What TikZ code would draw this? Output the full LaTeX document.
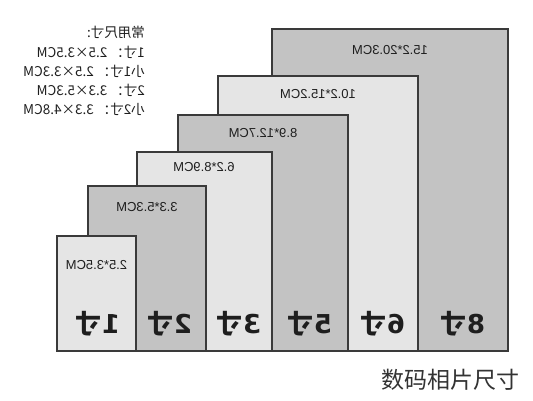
\documentclass[tikz,border=0pt]{standalone}
\usepackage{fontspec}
\setmainfont{Liberation Sans}
\newfontfamily\cjk{Noto Sans CJK SC}
\newfontfamily\digsans{DejaVu Sans}
\newcommand\mir[1]{\reflectbox{#1}}
\newcommand\bigsize[1]{\mir{{\digsans\bfseries #1}{\cjk\bfseries 寸}}}
\definecolor{lightfill}{HTML}{E5E5E5}
\definecolor{darkfill}{HTML}{C3C3C3}
\definecolor{edge}{HTML}{3A3A3A}
\definecolor{ink}{HTML}{1E1E1E}
\tikzset{
  photo/.style={draw=edge, line width=1.3pt},
  lightbox/.style={photo, fill=lightfill},
  darkbox/.style={photo, fill=darkfill},
  sizelabel/.style={inner sep=0pt, text=ink, font=\fontsize{13}{13}\selectfont},
  biglabel/.style={inner sep=0pt, text=ink, font=\fontsize{26}{26}\selectfont},
  legendline/.style={inner sep=0pt, anchor=east, text=ink, font=\cjk\fontsize{13.5}{13.5}\selectfont},
}
\begin{document}
\begin{tikzpicture}[x=1pt,y=-1pt]
\useasboundingbox (0,0) rectangle (533,400);
% rectangles, largest at back
\draw[darkbox]  (272,29)  rectangle (508,351);
\draw[lightbox] (218,76)  rectangle (418,351);
\draw[darkbox]  (178,115) rectangle (348,351);
\draw[lightbox] (137,152) rectangle (272,351);
\draw[darkbox]  (88,186)  rectangle (206,351);
\draw[lightbox] (57,236)  rectangle (136,351);
% size labels
\node[sizelabel] (s8) at (390,50)  {\mir{15.2*20.3CM}};
\node[sizelabel] (s6) at (318,94)  {\mir{10.2*15.2CM}};
\node[sizelabel] (s5) at (263,133) {\mir{8.9*12.7CM}};
\node[sizelabel] (s3) at (204,167) {\mir{6.2*8.9CM}};
\node[sizelabel] (s2) at (147,207) {\mir{3.3*5.3CM}};
\node[sizelabel] (s1) at (96.5,265) {\mir{2.5*3.5CM}};
% big labels
\node[biglabel] (b1) at (98,324)  {\bigsize{1}};
\node[biglabel] (b2) at (170,324) {\bigsize{2}};
\node[biglabel] (b3) at (239,324) {\bigsize{3}};
\node[biglabel] (b5) at (310,324) {\bigsize{5}};
\node[biglabel] (b6) at (383,324) {\bigsize{6}};
\node[biglabel] (b8) at (463,324) {\bigsize{8}};
% legend
\node[legendline] (l0) at (145,32)  {\mir{常用尺寸:}};
\node[legendline] (l1) at (145,52)  {\mir{1寸： 2.5×3.5CM}};
\node[legendline] (l2) at (145,71)  {\mir{小1寸： 2.5×3.3CM}};
\node[legendline] (l3) at (145,90)  {\mir{2寸： 3.3×5.3CM}};
\node[legendline] (l4) at (145,109) {\mir{小2寸： 3.3×4.8CM}};
% caption
\node[inner sep=0pt, text=black!80, font=\cjk\fontsize{23}{23}\selectfont] (cap) at (450,380) {数码相片尺寸};
\end{tikzpicture}
\end{document}
